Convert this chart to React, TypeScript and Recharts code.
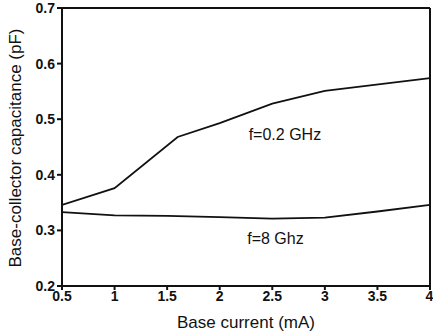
import React from "react";
import { LineChart, Line, XAxis, YAxis, ReferenceLine, ReferenceDot } from "recharts";

const current = [0.5, 1.0, 1.6, 2.0, 2.5, 3.0, 4.0];
const cLow = [0.346, 0.376, 0.468, 0.493, 0.528, 0.551, 0.574];
const currentHigh = [0.5, 1.0, 1.5, 2.0, 2.5, 3.0, 3.5, 4.0];
const cHigh = [0.333, 0.327, 0.326, 0.324, 0.321, 0.323, 0.334, 0.346];
const xTicks = [0.5, 1, 1.5, 2, 2.5, 3, 3.5, 4];
const yTicks = [0.2, 0.3, 0.4, 0.5, 0.6, 0.7];
const seriesLabels = ["f=0.2 GHz", "f=8 Ghz"];
const labelX = [2.62, 2.53];
const labelY = [0.472, 0.286];

const lowData = current.map((x, i) => ({ x, y: cLow[i] }));
const highData = currentHigh.map((x, i) => ({ x, y: cHigh[i] }));

const font = "Arial, 'Liberation Sans', Helvetica, sans-serif";
const tickStyle = { fontFamily: font, fontSize: 14, fontWeight: 700, fill: "#111" };

const YTitle = (props: any) => {
  const vb = props.viewBox || {};
  const cx = 15;
  const cy = (vb.y ?? 8) + (vb.height ?? 278) / 2 + 1;
  return (
    <text
      x={cx}
      y={cy}
      transform={`rotate(-90, ${cx}, ${cy})`}
      textAnchor="middle"
      dominantBaseline="central"
      style={{ fontFamily: font, fontSize: 17, fill: "#111" }}
    >
      Base-collector capacitance (pF)
    </text>
  );
};

export default function App() {
  return (
    <div style={{ position: "absolute", left: 0, top: 0, width: 433, height: 334, background: "#fff" }}>
      <LineChart width={433} height={334} margin={{ top: 8, right: 3, bottom: 0, left: 0 }}>
        <XAxis
          type="number"
          dataKey="x"
          domain={[0.5, 4]}
          ticks={xTicks}
          allowDataOverflow
          tick={tickStyle}
          tickSize={4}
          tickMargin={1}
          height={48}
          stroke="#111"
          strokeWidth={2}
          tickFormatter={(v: number) => String(v)}
          label={{ value: "Base current (mA)", position: "insideBottom", offset: 6, style: { fontFamily: font, fontSize: 17, fill: "#111" } }}
        />
        <YAxis
          type="number"
          domain={[0.2, 0.7]}
          ticks={yTicks}
          tick={tickStyle}
          tickSize={5}
          tickMargin={2}
          width={62}
          stroke="#111"
          strokeWidth={2}
          tickFormatter={(v: number) => v.toFixed(1)}
          label={<YTitle />}
        />
        <ReferenceLine y={0.7} stroke="#111" strokeWidth={2} ifOverflow="visible" />
        <ReferenceLine x={4} stroke="#111" strokeWidth={2} ifOverflow="visible" />
        <Line data={lowData} dataKey="y" type="linear" stroke="#111" strokeWidth={1.8} dot={false} isAnimationActive={false} />
        <Line data={highData} dataKey="y" type="linear" stroke="#111" strokeWidth={1.8} dot={false} isAnimationActive={false} />
        {seriesLabels.map((t, i) => (
          <ReferenceDot
            key={t}
            x={labelX[i]}
            y={labelY[i]}
            r={0}
            fill="none"
            stroke="none"
            ifOverflow="visible"
            label={{ value: t, position: "center", style: { fontFamily: font, fontSize: 16, fill: "#111" } }}
          />
        ))}
      </LineChart>
    </div>
  );
}
